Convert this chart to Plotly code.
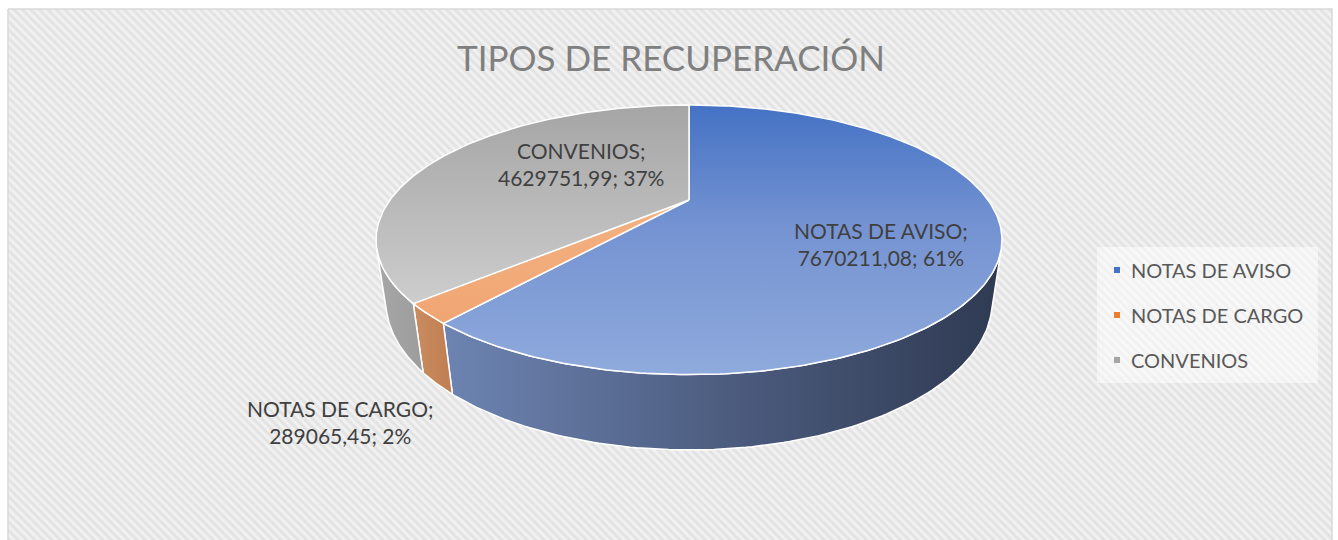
import numpy as np
import plotly.graph_objects as go

# ---- data -------------------------------------------------------------
categories = ["NOTAS DE AVISO", "NOTAS DE CARGO", "CONVENIOS"]
values = [7670211.08, 289065.45, 4629751.99]
title_text = "TIPOS DE RECUPERACIÓN"

# ---- styling ----------------------------------------------------------
W, H = 1338, 540
legend_colors = ["#4472c4", "#ed7d31", "#a5a5a5"]
top_scales = [
    [[0, "#4472c4"], [0.45, "#7593d2"], [1, "#8faadc"]],
    [[0, "#f4b183"], [1, "#f0a673"]],
    [[0, "#a5a5a5"], [1, "#cdcdcd"]],
]
side_scales = [
    [[0, "#6d84b2"], [0.5, "#4d5d80"], [1, "#2f3a52"]],
    [[0, "#c98c60"], [1, "#c07e52"]],
    [[0, "#a7a7a7"], [1, "#9c9c9c"]],
]
FONT = "Lato, 'Open Sans', sans-serif"

# ---- 3-D pie geometry (perspective projection of a tilted cylinder) ----
CX, CY = 689.0, 200.0      # screen position of the pie centre
SCALE = 299.0              # projected radius at the centre depth
PERSP = 0.324              # radius / camera distance
TILT = np.radians(24.3)    # camera elevation
DEPTH = 0.222              # pie thickness relative to radius


def project(theta, z):
    x = np.sin(theta)
    y = np.cos(theta)
    d = 1 + PERSP * (y * np.cos(TILT) - z * np.sin(TILT))
    sx = CX + SCALE * x / d
    sy = CY - SCALE * (y * np.sin(TILT) + z * np.cos(TILT)) / d
    return sx, sy


total = float(np.sum(values))
fractions = np.array(values) / total
bounds = np.concatenate([[0.0], np.cumsum(fractions)]) * 2 * np.pi

# outer wall faces the viewer where cos(theta) < -PERSP / cos(TILT)
vis_lo = np.arccos(-PERSP / np.cos(TILT))
vis_hi = 2 * np.pi - vis_lo

fig = go.Figure()

# chart area with hatched background
fx = [8, 1332, 1332, 8, 8]
fy = [9, 9, 560, 560, 9]
fig.add_trace(go.Scatter(
    x=fx, y=fy, mode="lines", fill="toself",
    line=dict(color="#d9d9d9", width=1.5),
    fillcolor="#e4e4e4",
    fillpattern=dict(shape="\\", bgcolor="#e3e3e3", fgcolor="#ffffff",
                     size=6, solidity=0.5),
    hoverinfo="skip", showlegend=False,
))

# outer walls
for i, cat in enumerate(categories):
    a, b = bounds[i], bounds[i + 1]
    lo, hi = max(a, vis_lo), min(b, vis_hi)
    if hi <= lo:
        continue
    t = np.linspace(lo, hi, 120)
    tx, ty = project(t, 0.0)
    bx, by = project(t[::-1], -DEPTH)
    xs = np.concatenate([tx, bx, tx[:1]])
    ys = np.concatenate([ty, by, ty[:1]])
    fig.add_trace(go.Scatter(
        x=xs, y=ys, mode="lines", fill="toself",
        line=dict(color="#ffffff", width=1.5),
        fillgradient=dict(type="horizontal", colorscale=side_scales[i],
                          start=float(xs.min()), stop=float(xs.max())),
        hoverinfo="skip", showlegend=False,
    ))

# top faces
for i, cat in enumerate(categories):
    a, b = bounds[i], bounds[i + 1]
    t = np.linspace(a, b, max(8, int(400 * fractions[i])))
    ax_, ay_ = project(t, 0.0)
    xs = np.concatenate([[CX], ax_, [CX]])
    ys = np.concatenate([[CY], ay_, [CY]])
    fig.add_trace(go.Scatter(
        x=xs, y=ys, mode="lines", fill="toself",
        line=dict(color="#ffffff", width=1.5),
        fillgradient=dict(type="vertical", colorscale=top_scales[i],
                          start=float(ys.min()), stop=float(ys.max())),
        hoverinfo="skip", showlegend=False,
    ))

# data labels
label_pos = [(881, 244), (340, 422), (581, 164)]
for i, cat in enumerate(categories):
    val = f"{values[i]:.2f}".replace(".", ",")
    pct = f"{round(fractions[i] * 100)}%"
    fig.add_annotation(
        x=label_pos[i][0], y=label_pos[i][1], xref="x", yref="y",
        text=f"{cat};<br>{val}; {pct}", showarrow=False, align="center",
        xanchor="center", yanchor="middle",
        font=dict(family=FONT, size=21, color="#404040"),
    )

# legend panel
fig.add_trace(go.Scatter(
    x=[1097, 1318, 1318, 1097, 1097], y=[247, 247, 383, 383, 247],
    mode="lines", fill="toself", line=dict(width=0),
    fillcolor="rgba(255,255,255,0.5)", hoverinfo="skip", showlegend=False,
))
legend_y = [270, 315, 360]
fig.add_trace(go.Scatter(
    x=[1117] * len(categories), y=legend_y, mode="markers",
    marker=dict(symbol="square", size=6, color=legend_colors),
    hoverinfo="skip", showlegend=False,
))
for i, cat in enumerate(categories):
    fig.add_annotation(
        x=1129, y=legend_y[i], xref="x", yref="y", text=cat,
        showarrow=False, xanchor="left", yanchor="middle",
        font=dict(family=FONT, size=20, color="#595959"),
    )

# title
fig.add_annotation(
    x=671, y=57, xref="x", yref="y", text=title_text, showarrow=False,
    xanchor="center", yanchor="middle",
    font=dict(family=FONT, size=35, color="#7f7f7f"),
)

fig.update_layout(
    width=W, height=H,
    margin=dict(l=0, r=0, t=0, b=0, pad=0),
    paper_bgcolor="#ffffff", plot_bgcolor="#ffffff",
    xaxis=dict(range=[0, W], visible=False, fixedrange=True),
    yaxis=dict(range=[H, 0], visible=False, fixedrange=True),
    showlegend=False,
)

fig.write_html("out.html")
